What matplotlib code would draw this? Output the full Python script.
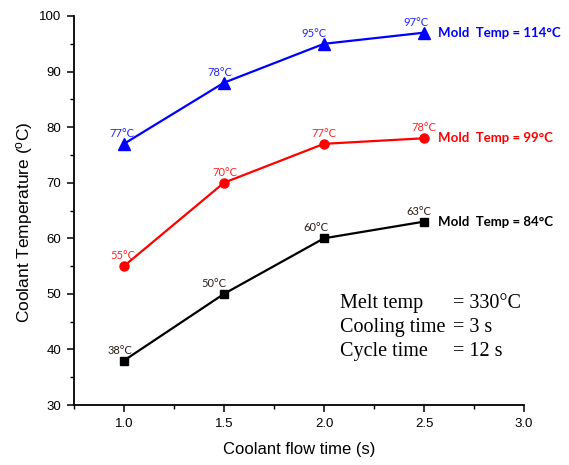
import matplotlib
matplotlib.use("Agg")
import matplotlib.pyplot as plt
from matplotlib.ticker import MultipleLocator

plt.rcParams["font.family"] = ["Liberation Sans", "DejaVu Sans"]
plt.rcParams["mathtext.fontset"] = "custom"
plt.rcParams["mathtext.rm"] = "Liberation Sans"
plt.rcParams["mathtext.it"] = "Liberation Sans"

# coolant flow time (s)
flow_time = [1.0, 1.5, 2.0, 2.5]

# coolant temperature (degC) for each mold temperature
temp_114 = [77, 88, 95, 97]
temp_99 = [55, 70, 77, 78]
temp_84 = [38, 50, 60, 63]

# annotation text printed next to each point
labels_114 = ["77°C", "78°C", "95°C", "97°C"]
labels_99 = ["55°C", "70°C", "77°C", "78°C"]
labels_84 = ["38°C", "50°C", "60°C", "63°C"]

series_names = ["Mold  Temp = 114°C", "Mold  Temp = 99°C", "Mold  Temp = 84°C"]

process_keys = ["Melt temp", "Cooling time", "Cycle time"]
process_vals = ["= 330°C", "= 3 s", "= 12 s"]

# horizontal nudge (points) of the small point labels
nudge_114 = [-1.5, -3, -7, -6]
nudge_99 = [-0.5, 1, 0, 0]
nudge_84 = [-3, -7, -6, -3.5]

LABEL_FONT = ["Lato", "DejaVu Sans"]

fig = plt.figure(figsize=(5.69, 4.65), dpi=100)
ax = fig.add_axes([0.130, 0.129, 0.791, 0.8366])

styles = [
    (temp_114, labels_114, nudge_114, "#0000ff", "^", 8.0, "#2222ff"),
    (temp_99, labels_99, nudge_99, "#ff0000", "o", 6.5, "#ff2222"),
    (temp_84, labels_84, nudge_84, "#000000", "s", 5.5, "#2a1e14"),
]

for (vals, labs, nudge, color, marker, ms, txtcolor), name in zip(styles, series_names):
    ax.plot(flow_time, vals, color=color, marker=marker, markersize=ms,
            linewidth=1.6, clip_on=False)
    for x, y, lab, dx in zip(flow_time, vals, labs, nudge):
        ax.annotate(lab, (x, y), xytext=(dx, 5), textcoords="offset points",
                    ha="center", va="baseline", fontsize=8, color=txtcolor,
                    family=LABEL_FONT)
    ax.annotate(name, (flow_time[-1], vals[-1]), xytext=(10, 0),
                textcoords="offset points", ha="left", va="center",
                fontsize=9.5, fontweight="bold", color=color,
                family=LABEL_FONT)

# process settings block
for i, (key, val) in enumerate(zip(process_keys, process_vals)):
    y = 47.5 - i * 4.35
    ax.text(2.08, y, key, fontsize=14.5, family=["Liberation Serif"], va="baseline")
    ax.text(2.645, y, val, fontsize=14.5, family=["Liberation Serif"], va="baseline")

ax.set_xlim(0.75, 3.0)
ax.set_ylim(30, 100)
ax.xaxis.set_major_locator(MultipleLocator(0.5))
ax.xaxis.set_minor_locator(MultipleLocator(0.25))
ax.yaxis.set_major_locator(MultipleLocator(10))
ax.yaxis.set_minor_locator(MultipleLocator(5))
ax.set_xticks([1.0, 1.5, 2.0, 2.5, 3.0])
ax.set_xticklabels(["1.0", "1.5", "2.0", "2.5", "3.0"])

for side in ("top", "right"):
    ax.spines[side].set_visible(False)
for side in ("left", "bottom"):
    ax.spines[side].set_linewidth(1.3)

ax.tick_params(which="major", direction="out", length=5, width=1.1,
               labelsize=9.5, pad=4)
ax.tick_params(which="minor", direction="out", length=3, width=1.0)

ax.set_xlabel("Coolant flow time (s)", fontsize=12, labelpad=9)
ax.set_ylabel("Coolant Temperature ($^o$C)", fontsize=12.5)
ax.yaxis.set_label_coords(-0.087, 0.47)

fig.savefig("out.png", dpi=100)
